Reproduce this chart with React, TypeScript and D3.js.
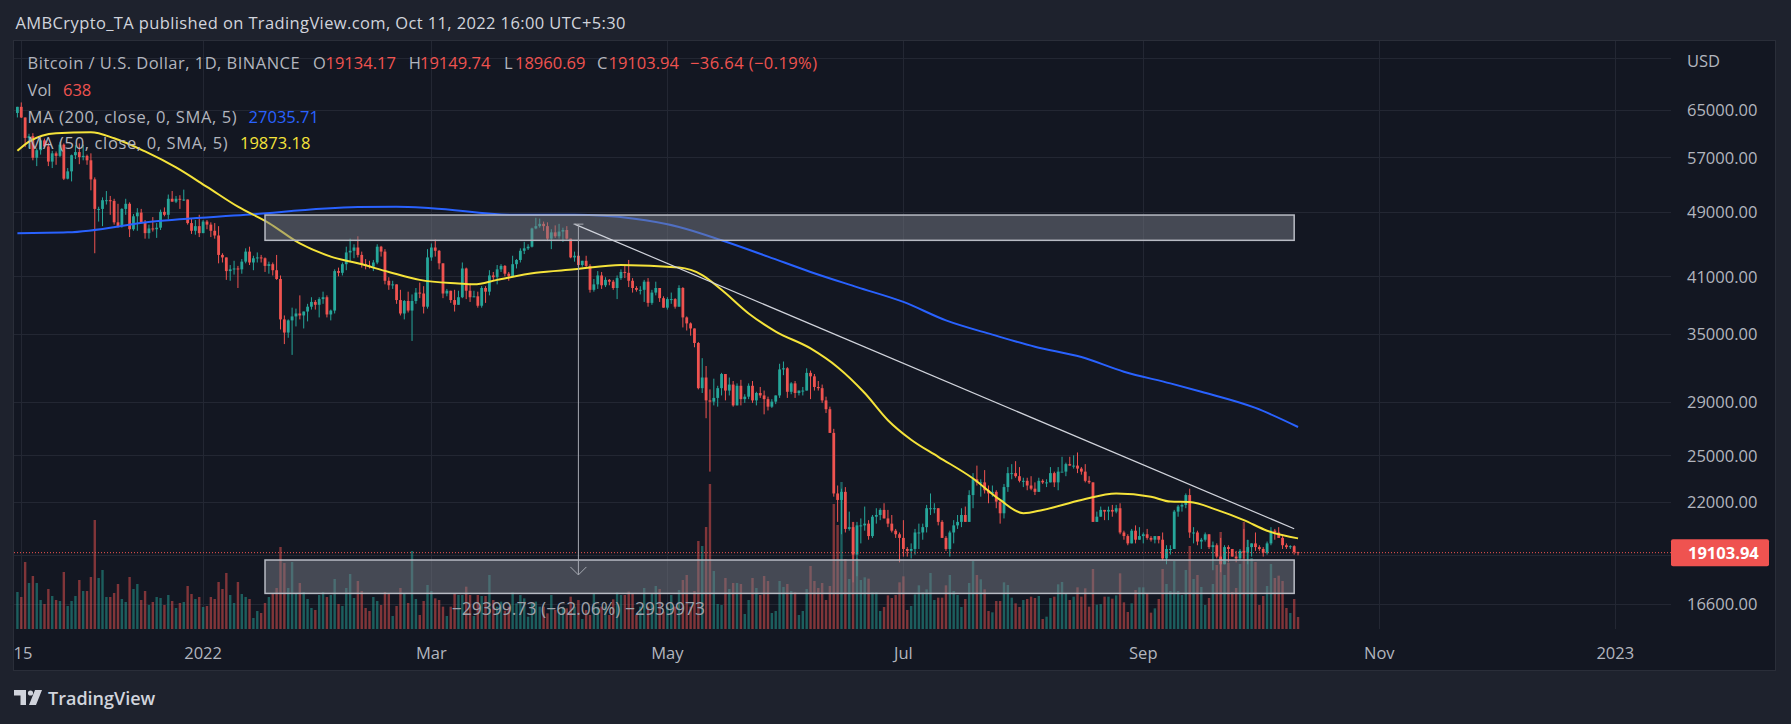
import React from "react";
import * as d3 from "d3";

// daily BTC candles: [high, low, close, volume]  (prices in thousand USD)
const firstOpen = 64.4;
const nov21 = [
  [65.5, 63.6, 65.5, 111], [66.3, 63.5, 63.6, 96], [63.6, 58.6, 60.1, 201], [60.8, 58.4, 60.4, 138],
  [60.9, 56.5, 56.9, 159], [58.4, 55.6, 58.1, 138], [59.9, 57.4, 59.7, 87], [60.0, 58.5, 58.7, 75],
  [59.3, 55.6, 56.3, 120], [58.0, 55.3, 57.6, 99], [57.9, 55.8, 57.2, 87], [59.4, 57.0, 59.0, 84],
  [59.2, 53.5, 53.7, 171], [55.3, 53.6, 54.8, 69], [57.4, 53.3, 57.3, 84], [58.9, 56.7, 57.8, 99],
  [59.2, 55.9, 57.0, 147],
];
const dec21 = [
  [59.0, 56.5, 57.2, 114], [57.4, 55.8, 56.5, 114], [57.6, 52.0, 53.6, 156], [53.9, 43.7, 49.4, 327],
  [49.7, 47.7, 49.4, 153], [51.0, 47.1, 50.6, 177], [51.9, 50.0, 50.6, 96], [51.2, 48.6, 50.5, 96],
  [50.8, 47.3, 47.6, 108], [50.1, 46.9, 47.1, 135], [49.5, 46.9, 49.4, 90], [50.8, 48.6, 50.1, 81],
  [50.3, 45.7, 46.7, 156], [48.7, 46.5, 48.4, 120], [49.5, 46.5, 48.9, 135], [49.4, 47.5, 47.6, 87],
  [47.9, 45.5, 46.2, 114], [47.3, 45.5, 46.8, 72], [48.3, 46.4, 46.7, 81], [47.5, 45.6, 46.9, 96],
  [49.3, 46.6, 49.0, 93], [49.6, 48.4, 48.6, 72], [51.4, 48.0, 50.8, 102], [51.9, 50.4, 50.4, 84],
  [51.2, 50.2, 50.8, 63], [51.3, 49.4, 50.7, 78], [52.1, 50.5, 50.7, 81], [50.7, 47.3, 47.5, 129],
  [48.1, 46.1, 46.5, 105], [47.9, 46.0, 47.1, 90], [48.6, 45.7, 46.2, 96],
];
const jan22 = [
  [47.9, 46.2, 47.7, 66], [47.9, 46.7, 47.3, 69], [47.6, 45.7, 46.5, 96], [47.5, 45.5, 45.9, 90],
  [47.1, 42.5, 43.5, 141], [43.7, 42.6, 43.2, 120], [43.2, 40.6, 41.6, 168], [42.3, 40.5, 41.8, 102],
  [42.8, 41.2, 41.9, 78], [42.2, 39.7, 41.8, 141], [43.0, 41.3, 42.7, 105], [44.3, 42.5, 43.9, 96],
  [44.5, 42.3, 42.6, 90], [43.4, 41.7, 43.1, 33], [43.8, 42.6, 43.2, 54], [43.5, 42.6, 43.1, 48],
  [43.2, 41.5, 42.2, 78], [42.7, 41.3, 42.4, 96], [42.6, 41.1, 41.7, 108], [43.5, 40.6, 40.7, 123],
  [41.1, 35.4, 36.4, 246], [36.8, 34.0, 35.1, 198], [36.4, 34.6, 36.3, 123], [37.6, 33.0, 36.7, 201],
  [37.5, 35.7, 37.0, 108], [38.9, 36.4, 36.8, 138], [37.2, 35.5, 37.2, 111], [38.0, 36.2, 37.7, 90],
  [38.7, 37.4, 38.2, 63], [38.4, 37.4, 37.9, 57], [38.7, 36.6, 38.5, 102],
];
const feb22 = [
  [39.3, 38.0, 38.7, 111], [38.9, 36.6, 36.9, 96], [37.4, 36.3, 37.3, 102], [41.8, 37.0, 41.6, 150],
  [42.0, 41.0, 41.4, 75], [42.6, 41.1, 42.4, 69], [44.5, 41.7, 43.8, 123], [45.5, 42.7, 44.0, 165],
  [44.8, 43.1, 44.4, 93], [45.8, 43.2, 43.5, 144], [43.9, 42.0, 42.4, 114], [43.0, 41.8, 42.2, 63],
  [42.8, 41.9, 42.1, 54], [42.9, 41.6, 42.6, 96], [44.8, 42.4, 44.5, 84], [44.6, 43.3, 43.9, 72],
  [44.2, 40.1, 40.5, 111], [40.9, 39.5, 40.0, 108], [40.5, 39.6, 40.1, 39], [40.1, 38.0, 38.4, 69],
  [39.5, 36.8, 37.0, 123], [38.4, 36.4, 38.3, 108], [39.3, 37.1, 37.3, 78], [39.0, 34.3, 38.3, 234],
  [39.7, 38.0, 39.2, 90], [40.3, 38.6, 39.1, 42], [39.9, 37.0, 37.7, 84], [44.2, 37.5, 43.2, 132],
];
const mar22 = [
  [44.9, 42.8, 44.4, 114], [45.4, 43.3, 44.0, 92], [44.1, 41.8, 42.5, 87], [42.5, 38.6, 39.1, 67],
  [39.6, 38.8, 39.4, 39], [39.3, 38.1, 38.4, 67], [39.5, 37.2, 37.9, 107], [39.4, 37.9, 38.7, 102],
  [42.6, 38.6, 41.9, 102], [42.0, 38.5, 39.4, 127], [40.2, 38.2, 38.7, 102], [39.4, 38.7, 38.8, 39],
  [39.3, 37.6, 37.8, 102], [39.9, 37.6, 39.7, 99], [39.9, 38.1, 39.3, 99], [41.7, 38.9, 41.1, 162],
  [41.5, 40.5, 40.9, 87], [42.3, 40.1, 41.8, 67], [42.4, 41.5, 42.2, 82], [42.3, 41.0, 41.3, 55],
  [41.5, 40.5, 41.0, 67], [43.4, 40.9, 42.4, 110], [43.0, 41.9, 42.9, 77], [44.3, 42.6, 44.0, 102],
  [45.1, 43.6, 44.3, 92], [44.8, 44.1, 44.5, 37], [46.9, 44.4, 46.8, 77], [48.2, 46.7, 47.1, 82],
  [48.1, 46.9, 47.4, 67], [47.7, 46.5, 47.1, 67], [47.6, 45.2, 45.5, 47],
];
const apr22 = [
  [46.7, 44.2, 46.3, 102], [47.2, 45.6, 45.8, 57], [47.4, 45.5, 46.4, 52], [46.9, 45.1, 46.6, 67],
  [47.1, 45.4, 45.5, 62], [45.5, 43.1, 43.2, 97], [43.9, 42.7, 43.4, 67], [43.9, 42.1, 42.3, 87],
  [42.8, 42.1, 42.8, 30], [43.4, 42.0, 42.2, 57], [42.4, 39.2, 39.5, 42], [40.7, 39.3, 40.1, 107],
  [41.6, 39.6, 41.1, 67], [41.5, 39.6, 40.0, 67], [40.9, 39.8, 40.6, 67], [40.7, 40.0, 40.4, 42],
  [40.6, 39.5, 39.7, 89], [41.1, 38.5, 40.8, 110], [41.8, 40.6, 41.5, 102], [42.2, 40.8, 41.4, 102],
  [42.9, 39.8, 40.5, 112], [40.8, 39.2, 39.7, 107], [39.9, 39.3, 39.5, 42], [39.9, 39.0, 39.5, 67],
  [40.6, 38.2, 40.4, 123], [40.8, 37.7, 38.1, 67], [39.5, 37.9, 39.2, 107], [40.4, 38.9, 39.7, 129],
  [39.4, 38.2, 38.6, 120], [38.8, 37.6, 37.6, 52],
];
const may22 = [
  [38.7, 37.4, 38.5, 67], [39.2, 38.0, 38.5, 102], [38.6, 37.5, 37.7, 67], [40.0, 37.7, 39.7, 117],
  [39.8, 35.6, 36.6, 147], [36.7, 35.3, 36.0, 162], [36.1, 34.8, 35.5, 67], [35.5, 33.7, 34.1, 114],
  [34.2, 30.0, 30.1, 264], [32.7, 29.7, 31.0, 249], [32.0, 27.7, 29.1, 306], [30.0, 23.9, 29.0, 435],
  [30.9, 28.7, 29.3, 174], [30.3, 28.6, 30.1, 75], [31.4, 29.5, 31.3, 72], [31.3, 29.1, 29.9, 153],
  [31.0, 29.5, 30.4, 120], [30.7, 28.6, 28.7, 138], [30.5, 28.7, 30.3, 138], [30.8, 28.7, 29.2, 135],
  [29.6, 28.9, 29.4, 45], [30.5, 29.2, 30.3, 87], [30.7, 28.9, 29.1, 153], [29.8, 28.7, 29.7, 123],
  [30.2, 29.3, 29.5, 102], [29.9, 28.0, 29.2, 159], [29.4, 28.3, 28.6, 144], [29.2, 28.5, 29.0, 48],
  [29.5, 28.8, 29.5, 54], [32.2, 29.3, 31.7, 144], [32.4, 31.2, 31.8, 126],
];
const jun22 = [
  [31.9, 29.3, 29.8, 135], [30.6, 29.6, 30.5, 114], [30.7, 29.3, 29.7, 110], [29.9, 29.5, 29.9, 42],
  [30.2, 29.5, 29.9, 54], [31.8, 29.9, 31.4, 120], [31.6, 29.2, 31.1, 189], [31.3, 29.9, 30.2, 144],
  [30.7, 29.9, 30.1, 123], [30.4, 28.9, 29.1, 138], [29.4, 28.1, 28.4, 87], [28.6, 26.6, 26.6, 129],
  [26.9, 22.3, 22.5, 375], [23.0, 20.8, 22.1, 312], [22.8, 20.1, 22.6, 441], [22.9, 20.2, 20.4, 210],
  [21.4, 20.3, 20.5, 150], [20.8, 17.6, 19.0, 321], [20.8, 17.9, 20.6, 212], [21.0, 19.6, 20.6, 147],
  [21.7, 20.3, 20.7, 155], [20.9, 19.8, 20.0, 151], [21.2, 19.9, 21.1, 110], [21.6, 20.7, 21.2, 110],
  [21.6, 20.9, 21.5, 54], [21.9, 21.0, 21.0, 66], [21.5, 20.5, 20.7, 101], [21.2, 20.2, 20.3, 93],
  [20.4, 19.9, 20.1, 102], [20.2, 18.6, 19.9, 140],
];
const jul22 = [
  [20.9, 18.9, 19.3, 158], [19.4, 18.9, 19.2, 57], [19.6, 18.8, 19.3, 69], [20.4, 19.0, 20.2, 104],
  [20.7, 19.3, 20.2, 131], [20.7, 19.8, 20.5, 110], [21.8, 20.2, 21.6, 119], [22.5, 21.2, 21.6, 168],
  [21.9, 21.3, 21.6, 87], [21.6, 20.6, 20.8, 94], [20.9, 19.9, 19.9, 94], [20.0, 19.2, 19.3, 131],
  [20.3, 18.9, 20.2, 162], [20.9, 19.6, 20.6, 114], [21.2, 20.4, 20.8, 102], [21.6, 20.5, 21.2, 66],
  [21.7, 20.8, 20.8, 90], [22.7, 20.8, 22.4, 138], [23.8, 21.6, 23.4, 204], [24.3, 23.0, 23.2, 162],
  [23.4, 22.3, 23.2, 149], [24.0, 22.5, 22.7, 119], [23.0, 21.9, 22.5, 54], [23.0, 22.3, 22.6, 50],
  [22.7, 21.6, 22.0, 84], [22.0, 20.7, 21.3, 84], [23.1, 21.0, 22.9, 140], [24.2, 22.6, 23.8, 132],
  [24.4, 23.4, 23.8, 94], [24.6, 23.5, 23.6, 77], [24.2, 23.2, 23.3, 66],
];
const aug22 = [
  [23.5, 22.9, 23.3, 87], [23.5, 22.7, 23.0, 90], [23.6, 22.7, 22.8, 97], [23.2, 22.4, 22.6, 93],
  [23.5, 22.6, 23.3, 99], [23.4, 23.1, 23.2, 30], [23.4, 22.9, 23.2, 37], [24.2, 23.2, 23.8, 93],
  [23.9, 22.9, 23.2, 97], [24.2, 22.7, 23.9, 134], [24.9, 23.9, 23.9, 141], [24.5, 23.6, 24.4, 107],
  [24.9, 24.3, 24.3, 87], [25.0, 24.1, 24.3, 97], [25.2, 23.8, 24.1, 125], [24.2, 23.7, 23.9, 97],
  [24.4, 23.2, 23.3, 122], [23.6, 23.1, 23.2, 67], [23.2, 20.8, 20.8, 180], [21.4, 20.8, 21.1, 73],
  [21.7, 21.1, 21.5, 75], [21.5, 20.9, 21.4, 97], [21.7, 20.9, 21.5, 97], [21.8, 21.1, 21.4, 91],
  [21.8, 21.3, 21.6, 101], [21.9, 20.1, 20.2, 167], [20.3, 19.8, 20.0, 80], [20.1, 19.5, 19.6, 51],
  [20.4, 19.6, 20.3, 77], [20.6, 19.6, 19.8, 117], [20.5, 19.8, 20.0, 125],
];
const sep22 = [
  [20.2, 19.6, 20.1, 125], [20.4, 19.8, 19.9, 105], [20.0, 19.7, 19.8, 49], [20.0, 19.6, 20.0, 62],
  [20.0, 19.6, 19.8, 90], [20.2, 18.7, 18.8, 180], [19.5, 18.5, 19.3, 135], [19.5, 19.0, 19.3, 114],
  [21.5, 19.3, 21.4, 204], [21.8, 21.1, 21.7, 114], [21.9, 21.4, 21.8, 102], [22.5, 21.6, 22.4, 177],
  [22.8, 19.9, 20.2, 249], [20.5, 19.6, 20.2, 150], [20.3, 19.5, 19.7, 162], [19.9, 19.3, 19.8, 126],
  [20.2, 19.7, 20.1, 72], [20.1, 19.3, 19.4, 93], [19.7, 18.2, 19.5, 135], [19.6, 18.8, 18.9, 192],
  [19.9, 18.1, 18.5, 291], [19.5, 18.5, 19.4, 162], [19.5, 18.6, 19.3, 198], [19.3, 18.9, 18.9, 111],
  [19.2, 18.6, 18.8, 123], [19.3, 18.7, 19.2, 195], [20.4, 18.8, 19.1, 321], [19.8, 18.5, 19.4, 267],
  [19.6, 18.9, 19.6, 213], [20.2, 19.2, 19.4, 201],
];
const oct22 = [
  [19.5, 19.2, 19.3, 72], [19.4, 18.9, 19.1, 99], [19.7, 19.0, 19.6, 129], [20.5, 19.5, 20.3, 195],
  [20.4, 19.8, 20.2, 153], [20.5, 19.9, 19.9, 160], [20.0, 19.3, 19.5, 144], [19.6, 19.3, 19.4, 63],
  [19.5, 19.3, 19.45, 48], [19.5, 19.0, 19.134, 90], [19.15, 18.961, 19.104, 36],
];
const months = [nov21, dec21, jan22, feb22, mar22, apr22, may22, jun22, jul22, aug22, sep22, oct22];

// moving averages: [date, price]
const ma200Points: [string, number][] = [
  ["2021-11-14", 46200], ["2021-11-27", 46300], ["2021-12-19", 47700], ["2022-01-12", 48600],
  ["2022-02-10", 49650], ["2022-02-20", 49700], ["2022-03-01", 49500], ["2022-03-22", 48600],
  ["2022-04-07", 48600], ["2022-04-22", 48100], ["2022-05-04", 47000], ["2022-05-15", 45300],
  ["2022-05-27", 43300], ["2022-06-07", 41500], ["2022-06-19", 39800], ["2022-07-01", 38200],
  ["2022-07-12", 36300], ["2022-07-24", 34900], ["2022-08-04", 33750], ["2022-08-16", 32800],
  ["2022-08-27", 31500], ["2022-09-08", 30500], ["2022-09-16", 29800], ["2022-09-30", 28500],
  ["2022-10-11", 27035.71],
];
const ma50Points: [string, number][] = [
  ["2021-11-14", 58000], ["2021-11-17", 59500], ["2021-11-24", 60900], ["2021-12-03", 61050],
  ["2021-12-09", 60050], ["2021-12-17", 57900], ["2021-12-25", 55400], ["2022-01-02", 52500],
  ["2022-01-10", 49700], ["2022-01-18", 47500], ["2022-01-26", 44900], ["2022-02-03", 43300],
  ["2022-02-10", 42500], ["2022-02-18", 41500], ["2022-02-26", 40600], ["2022-03-08", 40200],
  ["2022-03-12", 40100], ["2022-03-18", 40600], ["2022-03-28", 41400], ["2022-04-07", 41800],
  ["2022-04-19", 42300], ["2022-05-04", 42000], ["2022-05-10", 41150], ["2022-05-15", 39500],
  ["2022-05-22", 37000], ["2022-05-29", 35200], ["2022-06-07", 33600], ["2022-06-14", 31900],
  ["2022-06-21", 29700], ["2022-06-27", 27550], ["2022-07-03", 26100], ["2022-07-10", 24900],
  ["2022-07-19", 23450], ["2022-07-26", 22100], ["2022-08-01", 21300], ["2022-08-06", 21500],
  ["2022-08-16", 22100], ["2022-08-25", 22500], ["2022-09-03", 22300], ["2022-09-08", 22000],
  ["2022-09-13", 21970], ["2022-09-20", 21500], ["2022-09-27", 20900], ["2022-10-03", 20300],
  ["2022-10-11", 19873.18],
];

// drawings on the chart
const zoneUpper = { from: "2022-01-17", to: "2022-10-10", hi: 48570, lo: 45290 };
const zoneLower = { from: "2022-01-17", to: "2022-10-10", hi: 18720, lo: 17070 };
const trendLine: [string, number][] = [["2022-04-07", 47363], ["2022-10-10", 20410]];
const measure = { date: "2022-04-08", from: 47363.46, to: 17963.73 };
const measureLabel = "\u221229399.73 (\u221262.06%) \u22122939973";

const yTickValues = [65000, 57000, 49000, 41000, 35000, 29000, 25000, 22000, 16600];
const yGridOnly = [75000, 19000];
const xTickDates = ["2021-11-15", "2022-01-01", "2022-03-01", "2022-05-01", "2022-07-01", "2022-09-01", "2022-11-01", "2023-01-01"];
const xTickLabels = ["15", "2022", "Mar", "May", "Jul", "Sep", "Nov", "2023"];
const lastPrice = 19103.94;

const W = 1791;
const H = 724;
const plot = { left: 14, top: 41, right: 1671, bottom: 629 };
const FONT = "'Open Sans', 'Noto Sans', Arial, sans-serif";
const UP = "#26a69a";
const DOWN = "#ef5350";
const GRID = "#232733";
const TXT = "#b2b5be";

const parse = d3.utcParse("%Y-%m-%d");
const DAY = 86400000;
const start = Date.UTC(2021, 10, 14);

const candles: { date: Date; open: number; high: number; low: number; close: number; vol: number }[] = [];
let prevClose = firstOpen;
months.forEach((m) =>
  m.forEach(([h, l, c, v]) => {
    const o = prevClose * 1000;
    const cl = c * 1000;
    candles.push({
      date: new Date(start + candles.length * DAY),
      open: o,
      close: cl,
      high: Math.max(h * 1000, o, cl),
      low: Math.min(l * 1000, o, cl),
      vol: v,
    });
    prevClose = c;
  })
);

const x = d3.scaleUtc().domain([new Date(start), new Date(Date.UTC(2023, 0, 1))]).range([17.4, 1615.3]);
const y = d3.scaleLog().domain([16600, 65000]).range([603.5, 109.6]);
const yVol = d3.scaleLinear().domain([0, 600]).range([plot.bottom, plot.bottom - 200]);

const maLine = d3
  .line<[string, number]>()
  .x((d) => x(parse(d[0]) as Date))
  .y((d) => y(d[1]))
  .curve(d3.curveMonotoneX);

const App = () => {
  const bodyW = 2.8;
  const volW = 2.4;
  const mx = x(parse(measure.date) as Date);
  const my1 = y(measure.from);
  const my2 = y(measure.to);
  const zone = (z: typeof zoneUpper) => {
    const x1 = x(parse(z.from) as Date);
    const x2 = x(parse(z.to) as Date);
    return { x: x1, y: y(z.hi), w: x2 - x1, h: y(z.lo) - y(z.hi) };
  };
  const zu = zone(zoneUpper);
  const zl = zone(zoneLower);

  return (
    <div>
      <style>{`body{margin:0;background:#1e222d}`}</style>
      <svg width={W} height={H} style={{ display: "block", fontFamily: FONT }}>
        <rect width={W} height={H} fill="#1e222d" />
        <text x={15.5} y={22} fill="#d1d4dc" fontSize={16.5} textLength={610} lengthAdjust="spacing" dominantBaseline="central">
          AMBCrypto_TA published on TradingView.com, Oct 11, 2022 16:00 UTC+5:30
        </text>

        <rect x={13.5} y={40.5} width={1762} height={630} fill="#131722" stroke="#2a2e39" />

        <defs>
          <clipPath id="plotClip">
            <rect x={plot.left} y={plot.top} width={plot.right - plot.left} height={plot.bottom - plot.top} />
          </clipPath>
        </defs>

        {/* grid */}
        <g stroke={GRID} strokeWidth={1}>
          {[...yTickValues, ...yGridOnly].map((v) => (
            <line key={v} x1={plot.left} x2={plot.right} y1={Math.round(y(v)) + 0.5} y2={Math.round(y(v)) + 0.5} />
          ))}
          {xTickDates.map((d) => {
            const xx = Math.round(x(parse(d) as Date)) + 0.5;
            return <line key={d} x1={xx} x2={xx} y1={plot.top} y2={plot.bottom} />;
          })}
        </g>

        <g clipPath="url(#plotClip)">
          {/* volume */}
          {candles.map((c, i) => (
            <rect
              key={"v" + i}
              x={x(c.date) - volW / 2}
              y={yVol(c.vol)}
              width={volW}
              height={plot.bottom - yVol(c.vol)}
              fill={c.close >= c.open ? UP : DOWN}
              fillOpacity={0.5}
            />
          ))}

          {/* candles */}
          {candles.map((c, i) => {
            const col = c.close >= c.open ? UP : DOWN;
            const cx = x(c.date);
            const top = y(Math.max(c.open, c.close));
            const bot = y(Math.min(c.open, c.close));
            return (
              <g key={"c" + i}>
                <line x1={cx} x2={cx} y1={y(c.high)} y2={y(c.low)} stroke={col} strokeWidth={1} />
                <rect x={cx - bodyW / 2} y={top} width={bodyW} height={Math.max(1, bot - top)} fill={col} />
              </g>
            );
          })}

          <path d={maLine(ma200Points) || ""} fill="none" stroke="#2962ff" strokeWidth={2} />
          <path d={maLine(ma50Points) || ""} fill="none" stroke="#f5e33a" strokeWidth={2} />

          {/* last price line */}
          <line
            x1={plot.left}
            x2={plot.right}
            y1={y(lastPrice)}
            y2={y(lastPrice)}
            stroke={DOWN}
            strokeWidth={1}
            strokeDasharray="1 2"
          />

          {/* zones */}
          {[zu, zl].map((z, i) => (
            <rect
              key={"z" + i}
              x={z.x}
              y={z.y}
              width={z.w}
              height={z.h}
              fill="rgba(120,123,134,0.5)"
              stroke="#b8bbc4"
              strokeWidth={1.5}
            />
          ))}

          {/* trend line */}
          <line
            x1={x(parse(trendLine[0][0]) as Date)}
            y1={y(trendLine[0][1])}
            x2={x(parse(trendLine[1][0]) as Date)}
            y2={y(trendLine[1][1])}
            stroke="#d1d4dc"
            strokeWidth={1.2}
          />

          {/* price range measure */}
          <g stroke="#a6a9b2" strokeWidth={1} fill="none">
            <line x1={mx} x2={mx} y1={my1} y2={my2} />
            <line x1={mx - 5} x2={mx + 5} y1={my1} y2={my1} />
            <polyline points={`${mx - 8},${my2 - 8} ${mx},${my2} ${mx + 8},${my2 - 8}`} />
          </g>
          <text x={mx} y={607.5} textAnchor="middle" dominantBaseline="central" fill="#9ea1aa" fontSize={17.5}>
            {measureLabel}
          </text>
        </g>

        {/* x axis labels */}
        {xTickDates.map((d, i) => (
          <text
            key={d}
            x={Math.max(x(parse(d) as Date), 23)}
            y={652}
            textAnchor="middle"
            dominantBaseline="central"
            fill={TXT}
            fontSize={16.5}
          >
            {xTickLabels[i]}
          </text>
        ))}

        {/* price axis */}
        <text x={1687} y={60.6} fill={TXT} fontSize={16.5} dominantBaseline="central">USD</text>
        {yTickValues.map((v) => (
          <text key={v} x={1687} y={y(v)} fill={TXT} fontSize={16.5} dominantBaseline="central">
            {v.toFixed(2)}
          </text>
        ))}
        <rect x={1671} y={y(lastPrice) - 13.5} width={98} height={27} rx={2} fill={DOWN} />
        <text x={1688} y={y(lastPrice)} fill="#ffffff" fontSize={16.5} fontWeight="bold" dominantBaseline="central">
          {lastPrice.toFixed(2)}
        </text>

        {/* legend */}
        <g fontSize={16.5} dominantBaseline="central">
          <text x={27.6} y={62} fill={TXT} textLength={272} lengthAdjust="spacing">Bitcoin / U.S. Dollar, 1D, BINANCE</text>
          <text x={312.9} y={62} fill={TXT}>O</text>
          <text x={325.5} y={62} fill={DOWN}>19134.17</text>
          <text x={408.7} y={62} fill={TXT}>H</text>
          <text x={420} y={62} fill={DOWN}>19149.74</text>
          <text x={504} y={62} fill={TXT}>L</text>
          <text x={515} y={62} fill={DOWN}>18960.69</text>
          <text x={597} y={62} fill={TXT}>C</text>
          <text x={608.5} y={62} fill={DOWN}>19103.94</text>
          <text x={690} y={62} fill={DOWN} textLength={127} lengthAdjust="spacing">{"\u221236.64 (\u22120.19%)"}</text>
          <text x={27.6} y={89} fill={TXT}>Vol</text>
          <text x={63} y={89} fill={DOWN}>638</text>
          <text x={27.6} y={116} fill={TXT} textLength={209} lengthAdjust="spacing">MA (200, close, 0, SMA, 5)</text>
          <text x={248.6} y={116} fill="#2962ff">27035.71</text>
          <text x={27.6} y={142} fill={TXT} textLength={200} lengthAdjust="spacing">MA (50, close, 0, SMA, 5)</text>
          <text x={240} y={142} fill="#f5e33a">19873.18</text>
        </g>

        {/* TradingView logo */}
        <g fill="#d1d4dc">
          <path d="M14 690 H26 V705 H20.5 V695.5 H14 Z" />
          <circle cx={30.5} cy={693} r={2.6} />
          <path d="M35 690 H42 L36 705 H29 Z" />
          <text x={48} y={697.5} fontSize={18} fontWeight={600} dominantBaseline="central">TradingView</text>
        </g>
      </svg>
    </div>
  );
};

export default App;
